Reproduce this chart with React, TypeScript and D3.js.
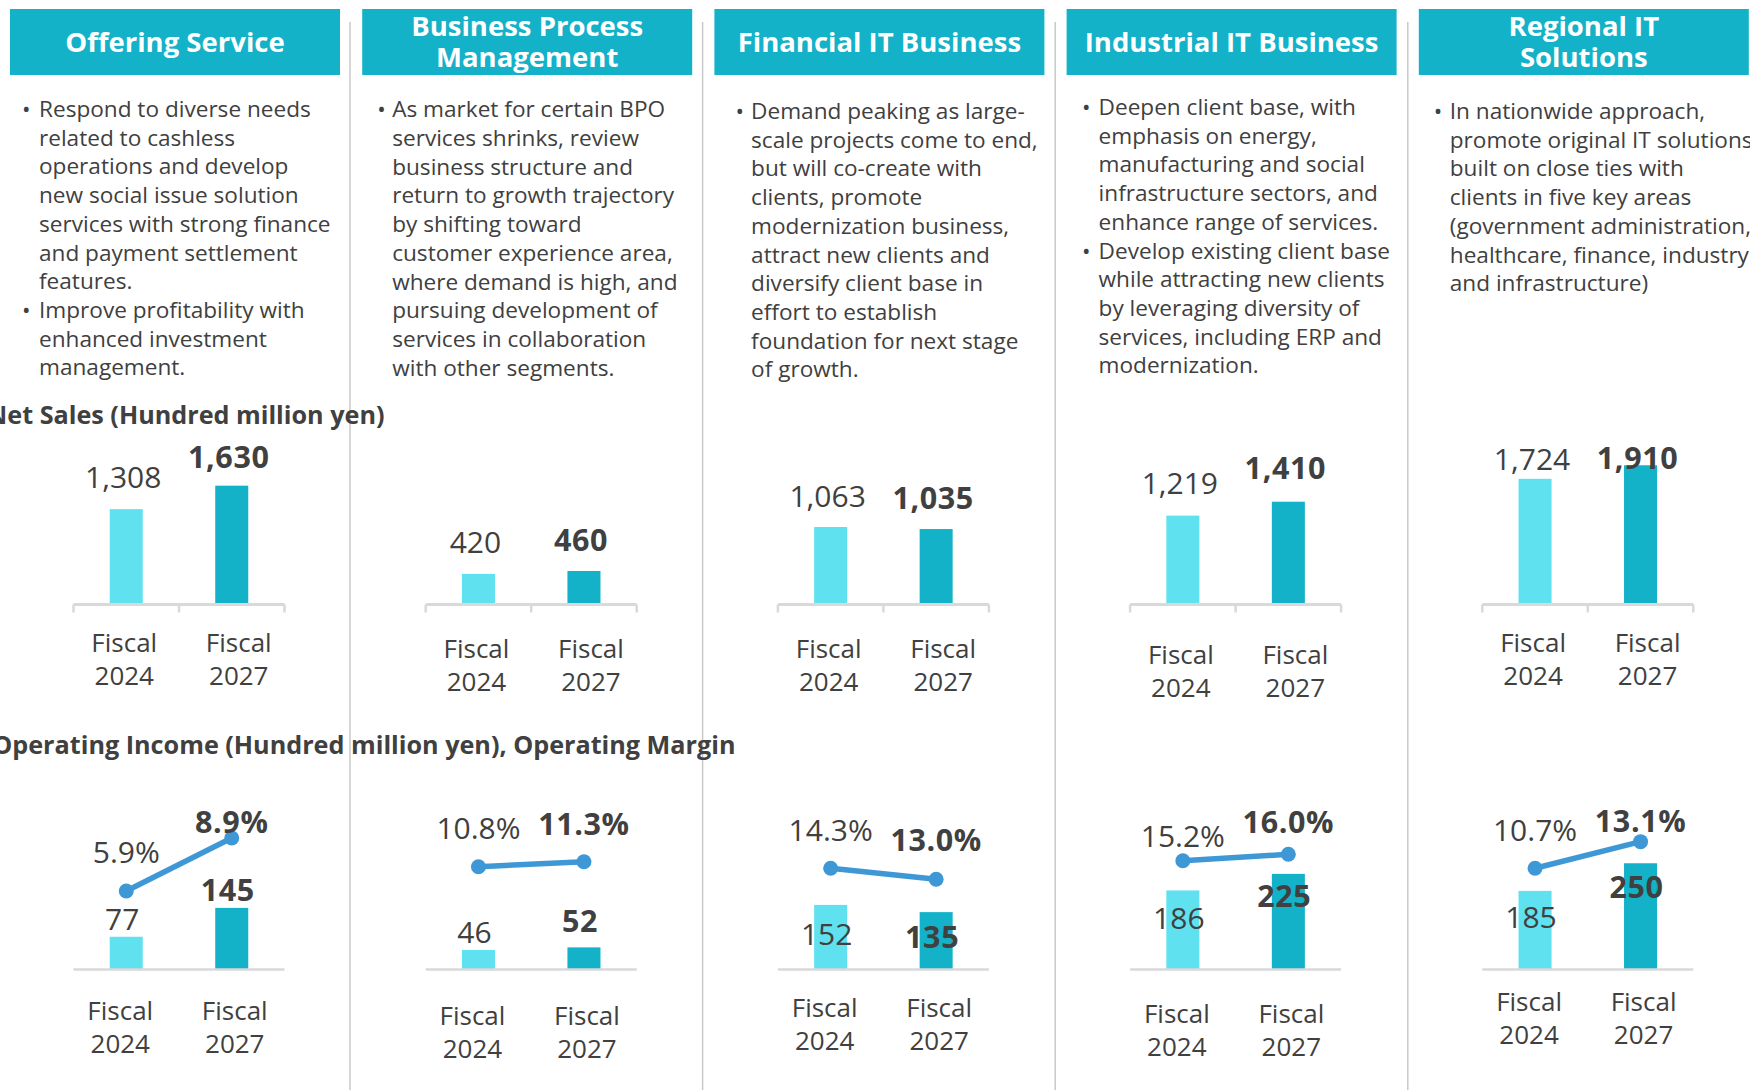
import React from "react";
import * as d3 from "d3";

// segment data
const headerLines: string[][] = [
  ["Offering Service"],
  ["Business Process", "Management"],
  ["Financial IT Business"],
  ["Industrial IT Business"],
  ["Regional IT", "Solutions"],
];

const bullets: string[][][] = [
  [
    ["Respond to diverse needs", "related to cashless", "operations and develop", "new social issue solution", "services with strong finance", "and payment settlement", "features."],
    ["Improve profitability with", "enhanced investment", "management."],
  ],
  [
    ["As market for certain BPO", "services shrinks, review", "business structure and", "return to growth trajectory", "by shifting toward", "customer experience area,", "where demand is high, and", "pursuing development of", "services in collaboration", "with other segments."],
  ],
  [
    ["Demand peaking as large-", "scale projects come to end,", "but will co-create with", "clients, promote", "modernization business,", "attract new clients and", "diversify client base in", "effort to establish", "foundation for next stage", "of growth."],
  ],
  [
    ["Deepen client base, with", "emphasis on energy,", "manufacturing and social", "infrastructure sectors, and", "enhance range of services."],
    ["Develop existing client base", "while attracting new clients", "by leveraging diversity of", "services, including ERP and", "modernization."],
  ],
  [
    ["In nationwide approach,", "promote original IT solutions", "built on close ties with", "clients in five key areas", "(government administration,", "healthcare, finance, industry", "and infrastructure)"],
  ],
];

const fiscalYears = ["Fiscal 2024", "Fiscal 2027"];
const netSales2024 = [1308, 420, 1063, 1219, 1724];
const netSales2027 = [1630, 460, 1035, 1410, 1910];
const opIncome2024 = [77, 46, 152, 186, 185];
const opIncome2027 = [145, 52, 135, 225, 250];
const opMargin2024 = [5.9, 10.8, 14.3, 15.2, 10.7];
const opMargin2027 = [8.9, 11.3, 13.0, 16.0, 13.1];

// secondary axis bounds of each margin chart
const marginAxis = [[1.43, 9.35], [0.47, 14.47], [2.28, 18.83], [1.54, 19.04], [1.52, 14.15]];

// layout
const FONT = "'Segoe UI', 'Open Sans', sans-serif";
const TEAL = "#13B2C8";
const LIGHT = "#5FE1F0";
const LINE_BLUE = "#3F98D6";
const TEXT = "#404040";
const AXIS = "#D9D9D9";
const SEP = "#C8C8C8";

const PITCH = 352.2;
const HEADER_LEFT = 10;
const HEADER_W = 330;
const AXIS_OFFSET = 63.5;
const AXIS_W = 211;
const LINE_H = 28.7;
const BODY_FS = 22.6;
const VALUE_FS = 30;
const VALUE_BOLD_FS = 30.5;
const bulletDx = [12, 15, 21, 15.5, 15];
const textDx = [29, 30, 36.7, 32, 31];
const firstBaseline = [117, 117.3, 119, 115, 119];
const netLabelLift = [[32, 28], [31, 31], [31, 31], [32, 33], [19, 7]];
const incomeLabelDrop = [[-17, -18], [-17, -26], [30, 25], [28, 22], [27, 24]];
const marginLabelLift = [[38, 16], [38.7, 37.7], [38, 39], [24, 32], [38, 20]];
const netTickY = [643, 649.3, 649.3, 655, 643.3];
const incomeTickY = [1011, 1016, 1008.3, 1014, 1002.3];
const netTickShift = [-2, 7];
const incomeTickShift = [-6, 3];

const fmt = d3.format(",");

function TickLabel({ x, y, label }: { x: number; y: number; label: string }) {
  const [a, b] = label.split(" ");
  return (
    <text x={x} textAnchor="middle" fontSize={26} fill={TEXT} fontFamily={FONT}>
      <tspan x={x} y={y + 9}>{a}</tspan>
      <tspan x={x} y={y + 32.5 + 9}>{b}</tspan>
    </text>
  );
}

function ValueText({ x, y, bold, children }: { x: number; y: number; bold: boolean; children: React.ReactNode }) {
  const fs = bold ? VALUE_BOLD_FS : VALUE_FS;
  return (
    <text x={x} y={y + fs * 0.35} textAnchor="middle" fontSize={fs} fontWeight={bold ? 700 : 400}
      letterSpacing={bold ? 0.6 : 0} fill={TEXT} fontFamily={FONT}>{children}</text>
  );
}

function Panel({ i }: { i: number }) {
  const left = HEADER_LEFT + i * PITCH;
  const ax0 = left + AXIS_OFFSET;
  const x = d3.scaleBand<string>().domain(fiscalYears).range([ax0, ax0 + AXIS_W]).paddingInner(0.687).paddingOuter(0.3435);
  const bw = x.bandwidth();
  const cx = (k: number) => (x(fiscalYears[k]) as number) + bw / 2;
  const ySales = d3.scaleLinear().domain([0, 2000]).range([604.5, 458.7]);
  const yInc = d3.scaleLinear().domain([0, 300]).range([969.5, 842]);
  const yMar = d3.scaleLinear().domain(marginAxis[i]).range([970, 830]);

  const sales = [netSales2024[i], netSales2027[i]];
  const income = [opIncome2024[i], opIncome2027[i]];
  const margin = [opMargin2024[i], opMargin2027[i]];
  const colors = [LIGHT, TEAL];

  const pts: [number, number][] = margin.map((m, k) => [cx(k), yMar(m)]);
  const line = d3.line();

  let row = 0;
  const lines: JSX.Element[] = [];
  bullets[i].forEach((b, bi) => {
    b.forEach((t, li) => {
      const y = firstBaseline[i] + row * LINE_H;
      if (li === 0) {
        lines.push(<text key={`b${bi}`} x={left + bulletDx[i]} y={y} fontSize={BODY_FS} fill={TEXT} fontFamily={FONT}>•</text>);
      }
      lines.push(<text key={`t${bi}-${li}`} x={left + textDx[i]} y={y} fontSize={BODY_FS} fill={TEXT} fontFamily={FONT}>{t}</text>);
      row++;
    });
  });

  const hl = headerLines[i];
  const hc = left + HEADER_W / 2;
  const headerYs = hl.length === 1 ? [42] : [26.5, 57.5];

  return (
    <g>
      <rect x={left} y={9} width={HEADER_W} height={66} fill={TEAL} />
      {hl.map((t, k) => (
        <text key={k} x={hc} y={headerYs[k] + 9.5} textAnchor="middle" fontSize={27.5} fontWeight={700} fill="#fff" fontFamily={FONT}>{t}</text>
      ))}
      {lines}

      {/* net sales */}
      {sales.map((v, k) => (
        <rect key={`s${k}`} x={x(fiscalYears[k])} y={ySales(v)} width={bw} height={ySales(0) - ySales(v)} fill={colors[k]} />
      ))}
      <line x1={ax0} x2={ax0 + AXIS_W} y1={604.5} y2={604.5} stroke={AXIS} strokeWidth={3} />
      {[0, 1, 2].map((k) => (
        <line key={`tk${k}`} x1={ax0 + (k * AXIS_W) / 2} x2={ax0 + (k * AXIS_W) / 2} y1={604.5} y2={612.5} stroke={AXIS} strokeWidth={2.5} />
      ))}
      {sales.map((v, k) => (
        <ValueText key={`sl${k}`} x={cx(k) - 3} y={ySales(v) - netLabelLift[i][k]} bold={k === 1}>{fmt(v)}</ValueText>
      ))}
      {fiscalYears.map((f, k) => (
        <TickLabel key={`nf${k}`} x={cx(k) + netTickShift[k]} y={netTickY[i]} label={f} />
      ))}

      {/* operating income and margin */}
      {income.map((v, k) => (
        <rect key={`o${k}`} x={x(fiscalYears[k])} y={yInc(v)} width={bw} height={yInc(0) - yInc(v)} fill={colors[k]} />
      ))}
      <line x1={ax0} x2={ax0 + AXIS_W} y1={969.5} y2={969.5} stroke={AXIS} strokeWidth={2.5} />
      {income.map((v, k) => (
        <ValueText key={`ol${k}`} x={cx(k) - 4} y={yInc(v) + incomeLabelDrop[i][k]} bold={k === 1}>{fmt(v)}</ValueText>
      ))}
      <path d={line(pts) as string} fill="none" stroke={LINE_BLUE} strokeWidth={5.5} />
      {pts.map((p, k) => (
        <circle key={`m${k}`} cx={p[0]} cy={p[1]} r={7.5} fill={LINE_BLUE} />
      ))}
      {margin.map((m, k) => (
        <ValueText key={`ml${k}`} x={cx(k)} y={yMar(m) - marginLabelLift[i][k]} bold={k === 1}>{m.toFixed(1) + "%"}</ValueText>
      ))}
      {fiscalYears.map((f, k) => (
        <TickLabel key={`of${k}`} x={cx(k) + incomeTickShift[k]} y={incomeTickY[i]} label={f} />
      ))}
    </g>
  );
}

export default function App() {
  return (
    <svg width={1750} height={1090} style={{ position: "absolute", left: 0, top: 0, background: "#fff" }}>
      {[0, 1, 2, 3].map((k) => (
        <line key={k} x1={350 + k * 352.6} x2={350 + k * 352.6} y1={22} y2={1090} stroke={SEP} strokeWidth={1.5} />
      ))}
      {headerLines.map((_, i) => (
        <Panel key={i} i={i} />
      ))}
      <text x={384.5} y={415 + 8.8} textAnchor="end" fontSize={25.2} fontWeight={700} fill={TEXT} fontFamily={FONT}>Net Sales (Hundred million yen)</text>
      <text x={735.5} y={745 + 8.8} textAnchor="end" fontSize={25.2} fontWeight={700} fill={TEXT} fontFamily={FONT}>Operating Income (Hundred million yen), Operating Margin</text>
    </svg>
  );
}
